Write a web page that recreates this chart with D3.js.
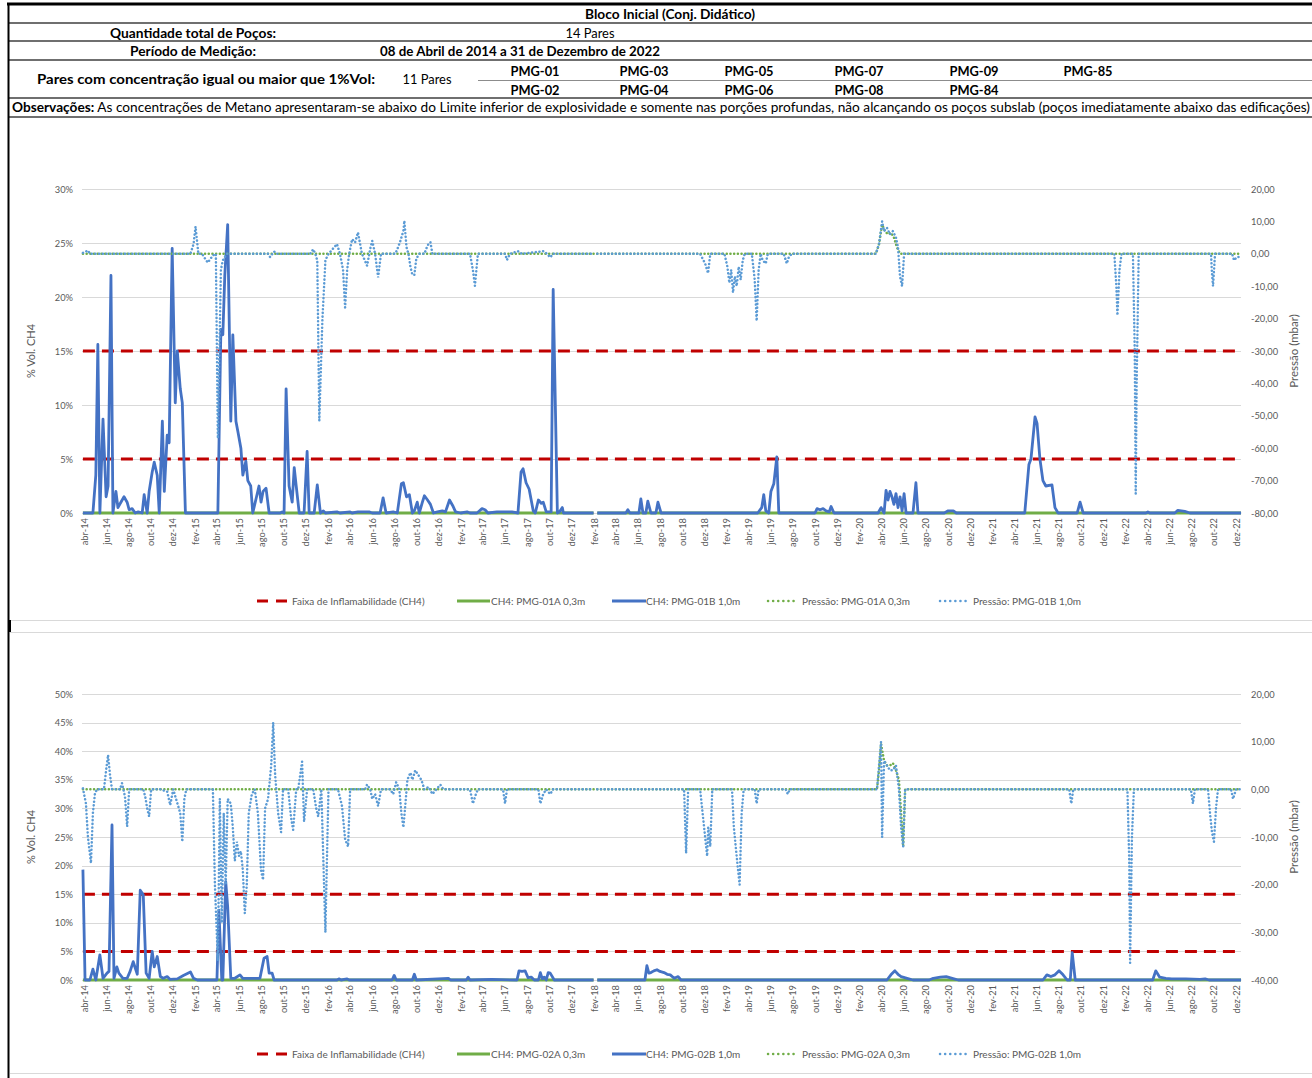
<!DOCTYPE html>
<html>
<head>
<meta charset="utf-8">
<script src="https://cdn.jsdelivr.net/npm/d3@7"></script>
<style>
  body { margin: 0; background: #fff; }
  svg { display: block; font-family: Lato, "Liberation Sans", sans-serif; }
</style>
</head>
<body>
<div id="page"></div>
<script>
// ---- data (time as decimal year, CH4 in %Vol, pressure in mbar) ----
var monthNames = ["jan", "fev", "mar", "abr", "mai", "jun", "jul", "ago", "set", "out", "nov", "dez"];
var flammability = [5, 15];
var pmgPairs1 = ["PMG-01", "PMG-03", "PMG-05", "PMG-07", "PMG-09", "PMG-85"];
var pmgPairs2 = ["PMG-02", "PMG-04", "PMG-06", "PMG-08", "PMG-84"];

var ch4_01A = [[2014.242, 0], [2018.079, 0], [2018.094, null], [2018.109, 0], [2022.954, 0]];
var ch4_01B = [
  [2014.242, 0], [2014.318, 0], [2014.340, 3.5], [2014.355, 15.6], [2014.370, 0], [2014.393, 8.7], [2014.416, 1.5],
  [2014.431, 2.5], [2014.453, 22], [2014.468, 0], [2014.491, 2], [2014.506, 0.5], [2014.528, 1], [2014.551, 1.5],
  [2014.574, 1], [2014.589, 0.3], [2014.611, 0.4], [2014.634, 0], [2014.656, 0.1], [2014.686, 0], [2014.701, 1.7],
  [2014.724, 0], [2014.739, 2], [2014.762, 3.8], [2014.777, 4.7], [2014.799, 3.5], [2014.814, 0], [2014.837, 8.5],
  [2014.852, 2], [2014.874, 7.2], [2014.889, 6.5], [2014.912, 24.5], [2014.935, 10.2], [2014.950, 15], [2014.972, 11.5],
  [2014.987, 10.2], [2015.010, 0], [2015.258, 0], [2015.281, 17], [2015.296, 16.5], [2015.311, 22], [2015.333, 26.7],
  [2015.356, 8.5], [2015.371, 16.5], [2015.394, 8.5], [2015.409, 7.5], [2015.431, 6], [2015.446, 3.5], [2015.469, 4.8],
  [2015.484, 3], [2015.506, 2.5], [2015.521, 0], [2015.567, 2.5], [2015.582, 1], [2015.597, 2], [2015.619, 2.3],
  [2015.642, 0], [2015.725, 0], [2015.740, 0.1], [2015.755, 0], [2015.770, 11.5], [2015.792, 2.5], [2015.815, 1],
  [2015.830, 4.2], [2015.845, 2.5], [2015.868, 0], [2015.905, 0], [2015.928, 5.7], [2015.943, 0], [2015.980, 0],
  [2016.003, 2.6], [2016.026, 0], [2016.048, 0.2], [2016.063, 0], [2016.153, 0.1], [2016.176, 0], [2016.251, 0.1],
  [2016.266, 0], [2016.311, 0.1], [2016.394, 0.1], [2016.417, 0], [2016.477, 0], [2016.500, 1.4], [2016.522, 0],
  [2016.575, 0.1], [2016.605, 0], [2016.635, 2.7], [2016.650, 2.8], [2016.673, 1.5], [2016.695, 1.7], [2016.718, 0],
  [2016.733, 0.2], [2016.755, 1], [2016.770, 0], [2016.793, 1], [2016.808, 1.6], [2016.831, 1.2], [2016.853, 0.8],
  [2016.876, 0], [2016.906, 0.1], [2016.943, 0.2], [2016.966, 0.1], [2016.996, 1.2], [2017.019, 0.7], [2017.041, 0.1],
  [2017.079, 0], [2017.131, 0.1], [2017.154, 0], [2017.207, 0], [2017.244, 0.4], [2017.267, 0.3], [2017.289, 0],
  [2017.357, 0.1], [2017.470, 0.1], [2017.515, 0], [2017.538, 3.8], [2017.553, 4.1], [2017.575, 2.8], [2017.598, 2.2],
  [2017.628, 0.2], [2017.643, 0], [2017.666, 1.2], [2017.688, 0.9], [2017.703, 1], [2017.726, 0.1], [2017.763, 0.1],
  [2017.778, 20.7], [2017.809, 0], [2017.824, 0.1], [2017.846, 0.5], [2017.854, 0], [2018.079, 0], [2018.094, null],
  [2018.109, 0], [2018.328, 0], [2018.343, 0.3], [2018.358, 0], [2018.425, 0], [2018.440, 1.3], [2018.456, 0],
  [2018.478, 0], [2018.493, 1.1], [2018.516, 0], [2018.553, 0], [2018.568, 1], [2018.591, 0], [2019.321, 0],
  [2019.351, 0.5], [2019.366, 1.7], [2019.381, 0.2], [2019.403, 0], [2019.419, 2], [2019.441, 2.7], [2019.464, 5.2],
  [2019.479, 0], [2019.750, 0], [2019.765, 0.4], [2019.787, 0.3], [2019.810, 0.4], [2019.832, 0.2], [2019.855, 0.1],
  [2019.870, 0.6], [2019.892, 0], [2020.224, 0], [2020.246, 0.5], [2020.269, 0], [2020.284, 2.1], [2020.299, 1.2],
  [2020.314, 2], [2020.329, 1.5], [2020.344, 0.8], [2020.359, 1.8], [2020.374, 0.5], [2020.389, 1.5], [2020.404, 0.2],
  [2020.419, 1.8], [2020.434, 0], [2020.487, 0], [2020.509, 2.8], [2020.524, 0], [2020.720, 0], [2020.750, 0.2],
  [2020.788, 0.2], [2020.810, 0], [2021.329, 0], [2021.360, 4.5], [2021.375, 5], [2021.405, 8.9], [2021.420, 8.3],
  [2021.442, 5], [2021.465, 3], [2021.487, 2.5], [2021.533, 2.6], [2021.555, 0.5], [2021.578, 0], [2021.721, 0],
  [2021.743, 1], [2021.766, 0], [2022.240, 0], [2022.255, 0.1], [2022.270, 0], [2022.458, 0], [2022.481, 0.25],
  [2022.533, 0.15], [2022.571, 0], [2022.954, 0]
];
var pres_01A = [
  [2014.242, 0], [2020.208, 0], [2020.231, 3], [2020.254, 9], [2020.276, 7], [2020.299, 6], [2020.321, 6.5],
  [2020.344, 5], [2020.366, 2], [2020.389, 0], [2022.954, 0]
];
var pres_01B = [
  [2014.242, 0.3], [2014.280, 1], [2014.295, 0], [2015.047, 0], [2015.070, 3], [2015.085, 8.4], [2015.108, 0],
  [2015.138, 0], [2015.160, -1.3], [2015.183, -2.7], [2015.221, -0.5], [2015.243, 0], [2015.258, -57], [2015.281, -5],
  [2015.296, -2], [2015.326, 0], [2015.634, 0], [2015.649, -1], [2015.679, 0.7], [2015.702, 0], [2015.950, 0],
  [2015.973, 1.4], [2015.988, 0], [2016.003, -2], [2016.018, -51.5], [2016.041, -20], [2016.063, -2], [2016.086, 0],
  [2016.153, 3], [2016.176, 0], [2016.199, -5], [2016.214, -16.6], [2016.229, -5], [2016.244, 0], [2016.266, 4.5],
  [2016.289, 3.5], [2016.311, 6.6], [2016.341, 0], [2016.379, -3.7], [2016.402, 1.5], [2016.417, 4], [2016.439, 0],
  [2016.462, -7.3], [2016.484, 0], [2016.590, 0], [2016.605, 1.4], [2016.627, 3.9], [2016.650, 7.1], [2016.657, 10.2],
  [2016.673, 2], [2016.688, 0], [2016.703, -4], [2016.718, -6.5], [2016.733, -6.5], [2016.748, -1.5], [2016.770, 0],
  [2016.808, 0], [2016.831, 2.6], [2016.853, 3.6], [2016.868, 0], [2017.154, 0], [2017.177, -5], [2017.192, -9.9],
  [2017.207, -3], [2017.214, 0], [2017.417, 0], [2017.432, -1.9], [2017.455, 0], [2017.515, 0.8], [2017.545, 0],
  [2017.703, 0.8], [2017.733, 0], [2017.756, -1.1], [2017.778, 0], [2018.079, 0], [2018.094, null], [2018.109, 0],
  [2018.884, 0], [2018.922, -3], [2018.944, -6], [2018.960, 0], [2019.065, 0], [2019.087, -4], [2019.103, -9],
  [2019.118, -5], [2019.133, -12], [2019.148, -7], [2019.163, -10], [2019.178, -4], [2019.193, -8], [2019.208, -2],
  [2019.223, 0], [2019.276, 0], [2019.298, -8], [2019.313, -20.7], [2019.328, -5], [2019.343, 0], [2019.358, -2],
  [2019.381, -3], [2019.396, 0], [2019.516, 0], [2019.539, -3], [2019.554, -1], [2019.576, 0], [2020.208, 0],
  [2020.231, 3], [2020.254, 10], [2020.269, 7], [2020.291, 8], [2020.314, 6], [2020.336, 7], [2020.359, 5],
  [2020.374, 2], [2020.389, -7], [2020.404, -10], [2020.419, 0], [2021.999, 0], [2022.014, -10], [2022.022, -19],
  [2022.037, -5], [2022.052, 0], [2022.142, 0], [2022.157, -30], [2022.165, -74], [2022.172, -40], [2022.187, 0],
  [2022.729, 0], [2022.736, -6], [2022.744, -10], [2022.759, 0], [2022.887, 0], [2022.902, -2], [2022.924, -1],
  [2022.954, -1]
];

var ch4_02A = [[2014.242, 0], [2018.079, 0], [2018.094, null], [2018.109, 0], [2022.954, 0]];
var ch4_02B = [
  [2014.242, 19.3], [2014.258, 0], [2014.295, 0], [2014.318, 1.9], [2014.340, 0], [2014.370, 4.4], [2014.393, 0.3],
  [2014.423, 1.2], [2014.438, 1.5], [2014.461, 27.1], [2014.476, 0.3], [2014.498, 2.3], [2014.513, 1.2], [2014.543, 0.3],
  [2014.574, 0.3], [2014.596, 1.5], [2014.619, 3.2], [2014.649, 1], [2014.671, 15.7], [2014.694, 14.9], [2014.716, 1.2],
  [2014.739, 0.3], [2014.762, 5], [2014.777, 2.3], [2014.799, 4.1], [2014.822, 0.6], [2014.844, 0.3], [2014.874, 0.6],
  [2014.897, 0.1], [2014.950, 0.2], [2014.995, 0.8], [2015.047, 1.4], [2015.070, 0.3], [2015.100, 0], [2015.251, 0],
  [2015.266, 12.2], [2015.288, 0], [2015.296, 0], [2015.318, 17.2], [2015.333, 12.8], [2015.356, 0.3], [2015.386, 0.3],
  [2015.424, 0.9], [2015.446, 0.3], [2015.521, 0.3], [2015.574, 0.3], [2015.604, 3.8], [2015.627, 4.1], [2015.642, 1.2],
  [2015.664, 1.2], [2015.679, 0], [2016.153, 0], [2016.168, 0.2], [2016.184, 0], [2016.229, 0.2], [2016.244, 0],
  [2016.567, 0], [2016.582, 0.8], [2016.597, 0], [2016.718, 0], [2016.733, 1], [2016.748, 0], [2016.988, 0.3],
  [2017.004, 0], [2017.124, 0], [2017.139, 0.5], [2017.154, 0], [2017.320, 0.1], [2017.508, 0], [2017.523, 1.6],
  [2017.545, 1.5], [2017.568, 1.6], [2017.590, 0.4], [2017.613, 0.5], [2017.636, 0], [2017.666, 0], [2017.681, 1.3],
  [2017.696, 0.2], [2017.711, 0.5], [2017.726, 0], [2017.741, 1.3], [2017.756, 1.2], [2017.786, 0], [2018.079, 0],
  [2018.094, null], [2018.109, 0], [2018.471, 0], [2018.486, 2.5], [2018.501, 1.2], [2018.516, 1.3], [2018.538, 1.6],
  [2018.561, 1.8], [2018.583, 1.5], [2018.613, 1.3], [2018.636, 1], [2018.659, 0.9], [2018.689, 0.3], [2018.719, 0.6],
  [2018.741, 0], [2020.291, 0], [2020.321, 0.9], [2020.351, 1.6], [2020.374, 1], [2020.397, 0.6], [2020.442, 0.3],
  [2020.487, 0], [2020.607, 0], [2020.637, 0.3], [2020.690, 0.5], [2020.735, 0.6], [2020.780, 0.3], [2020.825, 0],
  [2021.465, 0], [2021.495, 0.9], [2021.525, 0.6], [2021.555, 0.9], [2021.585, 1.6], [2021.615, 0.9], [2021.645, 0],
  [2021.668, 0], [2021.683, 4.8], [2021.706, 0], [2022.292, 0], [2022.315, 1.6], [2022.345, 0.5], [2022.390, 0.3],
  [2022.435, 0.2], [2022.481, 0.2], [2022.541, 0.2], [2022.646, 0.1], [2022.684, 0.2], [2022.714, 0], [2022.954, 0]
];
var pres_02A = [
  [2014.242, 0], [2020.216, 0], [2020.231, 4], [2020.246, 9.5], [2020.269, 6], [2020.291, 5], [2020.314, 5],
  [2020.336, 5.5], [2020.359, 4], [2020.381, 2], [2020.397, -5], [2020.412, -12], [2020.427, 0], [2022.954, 0]
];
var pres_02B = [
  [2014.242, 0.2], [2014.265, -3], [2014.280, -10], [2014.303, -15.5], [2014.318, -5], [2014.333, -1], [2014.348, 0],
  [2014.400, 0], [2014.416, 4], [2014.431, 7.2], [2014.446, 3], [2014.461, 0], [2014.521, 0], [2014.536, 1.3],
  [2014.558, -1.5], [2014.574, -7.8], [2014.589, 0], [2014.694, 0], [2014.709, -1.5], [2014.724, -4], [2014.739, -5.7],
  [2014.754, 0], [2014.822, 0], [2014.874, -0.5], [2014.897, -3.3], [2014.920, 0], [2014.972, -5], [2014.987, -11],
  [2015.002, -2], [2015.017, 0], [2015.221, 0], [2015.236, -20], [2015.258, -36], [2015.273, -2], [2015.288, -28],
  [2015.303, -5], [2015.318, -20], [2015.333, -2], [2015.356, -3], [2015.371, -8], [2015.386, -15], [2015.401, -11],
  [2015.416, -14], [2015.431, -13], [2015.446, -17], [2015.461, -26], [2015.476, -20], [2015.491, -5], [2015.514, -1],
  [2015.536, 0], [2015.559, -5], [2015.582, -17], [2015.597, -19], [2015.612, -4], [2015.634, -2], [2015.657, 5],
  [2015.672, 14], [2015.687, 3], [2015.710, -5], [2015.732, -9], [2015.747, 0], [2015.785, 0], [2015.807, -6],
  [2015.822, -8.5], [2015.845, 0], [2015.860, 0], [2015.890, 5.8], [2015.905, -6.8], [2015.928, 0], [2015.973, 0],
  [2015.995, -4], [2016.010, -5.7], [2016.033, 0], [2016.048, -15], [2016.063, -30], [2016.078, -10], [2016.086, 0],
  [2016.161, 0], [2016.191, -3.5], [2016.214, -10.5], [2016.236, -12], [2016.251, 0], [2016.364, 0], [2016.379, 1],
  [2016.402, 0], [2016.417, -2], [2016.439, -1], [2016.462, -3.5], [2016.484, 0], [2016.552, 0], [2016.575, -1],
  [2016.597, 1.5], [2016.620, 0], [2016.635, -5], [2016.650, -8], [2016.665, -3], [2016.680, 2], [2016.703, 3.5],
  [2016.718, 2], [2016.740, 4], [2016.763, 3], [2016.785, 2], [2016.808, 0], [2016.838, 0.5], [2016.868, -1],
  [2016.898, 0], [2016.928, 1], [2016.951, 0], [2017.154, 0], [2017.177, -3], [2017.199, -1], [2017.214, 0],
  [2017.402, 0], [2017.417, -3], [2017.432, 0], [2017.666, 0], [2017.681, -3], [2017.703, -1], [2017.726, 0],
  [2017.756, -1], [2017.778, 0], [2018.079, 0], [2018.094, null], [2018.109, 0], [2018.764, 0], [2018.779, -13.4],
  [2018.794, 0], [2018.884, 0], [2018.907, -6], [2018.922, -10], [2018.937, -14], [2018.945, -8], [2018.960, -12],
  [2018.975, 0], [2019.125, 0], [2019.140, -8], [2019.155, -12], [2019.170, -16], [2019.185, -20], [2019.200, -5],
  [2019.215, 0], [2019.298, 0], [2019.313, -3], [2019.328, 0], [2019.531, 0], [2019.546, -1], [2019.561, 0],
  [2020.216, 0], [2020.231, 5], [2020.246, 10], [2020.254, -10], [2020.269, 6], [2020.291, 5], [2020.314, 4],
  [2020.336, 4], [2020.359, 5], [2020.381, 0], [2020.397, -8], [2020.412, -12], [2020.427, 0], [2021.660, 0],
  [2021.676, -3], [2021.691, 0], [2022.097, 0], [2022.112, -15], [2022.119, -36.4], [2022.134, -10], [2022.150, 0],
  [2022.578, 0], [2022.593, -3], [2022.608, 0], [2022.706, 0], [2022.721, -5], [2022.736, -9], [2022.751, -11],
  [2022.766, -4], [2022.781, 0], [2022.879, 0], [2022.894, -2], [2022.917, 0], [2022.954, 0]
];

// ---- page ----
var width = 1312;
var height = 1078;
var textColor = "#595959";
var red = "#c00000", green = "#70ad47", blue = "#4472c4", lightBlue = "#5b9bd5";

var svg = d3.select("#page").append("svg").attr("width", width).attr("height", height);

function dateFromYear(t) {
  var y = Math.floor(t);
  var m = (t - y) * 12;
  var mi = Math.floor(m);
  var start = new Date(y, mi, 1);
  var end = new Date(y, mi + 1, 1);
  return new Date(+start + (m - mi) * (end - start));
}

function fmtComma(v) {
  return v.toFixed(2).replace(".", ",");
}

drawHeader();

drawChart({
  top: 189, bottom: 513, leftMax: 30, rightMin: -80, rightMax: 20,
  legendY: 601, titleY: 351,
  ch4A: ch4_01A, ch4B: ch4_01B, presA: pres_01A, presB: pres_01B,
  names: ["Faixa de Inflamabilidade (CH4)", "CH4: PMG-01A 0,3m", "CH4: PMG-01B 1,0m", "Pressão: PMG-01A 0,3m", "Pressão: PMG-01B 1,0m"]
});

drawChart({
  top: 694, bottom: 980, leftMax: 50, rightMin: -40, rightMax: 20,
  legendY: 1054, titleY: 837,
  ch4A: ch4_02A, ch4B: ch4_02B, presA: pres_02A, presB: pres_02B,
  names: ["Faixa de Inflamabilidade (CH4)", "CH4: PMG-02A 0,3m", "CH4: PMG-02B 1,0m", "Pressão: PMG-02A 0,3m", "Pressão: PMG-02B 1,0m"]
});

// panel frames
svg.append("line").attr("x1", 8.5).attr("x2", 8.5).attr("y1", 3).attr("y2", height)
  .attr("stroke", "#000").attr("stroke-width", 2);
[620, 632, 1073].forEach(function (y) {
  svg.append("line").attr("x1", 10).attr("x2", width).attr("y1", y + 0.5).attr("y2", y + 0.5)
    .attr("stroke", "#d9d9d9").attr("stroke-width", 1);
});
svg.append("line").attr("x1", 9.5).attr("x2", 9.5).attr("y1", 620).attr("y2", 632)
  .attr("stroke", "#000").attr("stroke-width", 3);

function drawHeader() {
  var g = svg.append("g").attr("class", "header");

  g.append("line").attr("x1", 7).attr("x2", width).attr("y1", 4).attr("y2", 4)
    .attr("stroke", "#000").attr("stroke-width", 3);
  [23, 41, 60, 98, 117].forEach(function (y) {
    g.append("line").attr("x1", 8).attr("x2", width).attr("y1", y).attr("y2", y)
      .attr("stroke", "#3f3f3f").attr("stroke-width", 1.5);
  });
  g.append("line").attr("x1", 478).attr("x2", width).attr("y1", 80.5).attr("y2", 80.5)
    .attr("stroke", "#8c8c8c").attr("stroke-width", 1);

  // x, y, text, bold, anchor, width the text spans in the source table
  function label(x, y, txt, bold, anchor, span) {
    var t = g.append("text").attr("x", x).attr("y", y)
      .attr("text-anchor", anchor || "middle")
      .attr("dominant-baseline", "central")
      .style("font-size", "13px")
      .style("font-weight", bold ? "bold" : "normal")
      .attr("fill", "#000")
      .text(txt);
    if (span) {
      t.attr("textLength", span).attr("lengthAdjust", "spacingAndGlyphs");
    }
    return t;
  }

  label(670, 14, "Bloco Inicial (Conj. Didático)", true, "middle", 170);
  label(193, 33, "Quantidade total de Poços:", true, "middle", 166);
  label(590, 33, "14 Pares", false, "middle", 49);
  label(193, 51, "Período de Medição:", true, "middle", 126);
  label(380, 51, "08 de Abril de 2014 a 31 de Dezembro de 2022", true, "start", 280);
  label(206, 79, "Pares com concentração igual ou maior que 1%Vol:", true, "middle", 338);
  label(427, 79, "11 Pares", false, "middle", 49);

  var cols = [535, 644, 749, 859, 974, 1088];
  pmgPairs1.forEach(function (p, i) { label(cols[i], 71, p, true, "middle", 49); });
  pmgPairs2.forEach(function (p, i) { label(cols[i], 90, p, true, "middle", 49); });

  var obs = g.append("text").attr("x", 12).attr("y", 107)
    .attr("dominant-baseline", "central")
    .style("font-size", "13px").attr("fill", "#000");
  obs.append("tspan").style("font-weight", "bold").text("Observações:");
  obs.append("tspan").text(" As concentrações de Metano apresentaram-se abaixo do Limite inferior de explosividade e somente nas porções profundas, não alcançando os poços subslab (poços imediatamente abaixo das edificações)");
  obs.attr("textLength", 1298).attr("lengthAdjust", "spacingAndGlyphs");
}

function drawChart(cfg) {
  var g = svg.append("g");
  var plotLeft = 82, plotRight = 1241;

  var x = d3.scaleTime()
    .domain([new Date(2014, 3, 1), new Date(2022, 11, 1)])
    .range([84, 1236]);
  var yL = d3.scaleLinear().domain([0, cfg.leftMax]).range([cfg.bottom, cfg.top]);
  var yR = d3.scaleLinear().domain([cfg.rightMin, cfg.rightMax]).range([cfg.bottom, cfg.top]);

  var leftTicks = d3.range(0, cfg.leftMax + 0.001, 5);
  var rightTicks = d3.range(cfg.rightMin, cfg.rightMax + 0.001, 10);

  // gridlines
  g.selectAll(".grid")
    .data(leftTicks)
    .enter()
    .append("line")
    .attr("class", "grid")
    .attr("x1", plotLeft).attr("x2", plotRight)
    .attr("y1", function (d) { return Math.round(yL(d)) + 0.5; })
    .attr("y2", function (d) { return Math.round(yL(d)) + 0.5; })
    .attr("stroke", "#d9d9d9").attr("stroke-width", 1);

  // left axis labels
  g.selectAll(".ltick")
    .data(leftTicks)
    .enter()
    .append("text")
    .attr("x", 73)
    .attr("y", function (d) { return yL(d); })
    .attr("text-anchor", "end")
    .attr("dominant-baseline", "central")
    .style("font-size", "9.3px")
    .attr("fill", textColor)
    .text(function (d) { return d + "%"; });

  // right axis labels
  g.selectAll(".rtick")
    .data(rightTicks)
    .enter()
    .append("text")
    .attr("x", 1251)
    .attr("y", function (d) { return yR(d); })
    .attr("dominant-baseline", "central")
    .style("font-size", "9.3px")
    .attr("fill", textColor)
    .text(fmtComma);

  // x labels every 2 months
  var months = d3.timeMonth.range(new Date(2014, 3, 1), new Date(2022, 11, 2), 2);
  g.selectAll(".xtick")
    .data(months)
    .enter()
    .append("text")
    .attr("transform", function (d) {
      return "translate(" + x(d) + "," + (cfg.bottom + 5) + ") rotate(-90)";
    })
    .attr("text-anchor", "end")
    .attr("dominant-baseline", "central")
    .style("font-size", "9.3px")
    .attr("fill", textColor)
    .text(function (d) {
      return monthNames[d.getMonth()] + "-" + String(d.getFullYear()).slice(2);
    });

  // axis titles
  g.append("text")
    .attr("transform", "translate(30," + cfg.titleY + ") rotate(-90)")
    .attr("text-anchor", "middle")
    .attr("dominant-baseline", "central")
    .style("font-size", "11px")
    .attr("fill", textColor)
    .text("% Vol. CH4");
  g.append("text")
    .attr("transform", "translate(1293," + cfg.titleY + ") rotate(-90)")
    .attr("text-anchor", "middle")
    .attr("dominant-baseline", "central")
    .style("font-size", "11.5px")
    .attr("fill", textColor)
    .text("Pressão (mbar)");

  // flammability range
  g.selectAll(".flam")
    .data(flammability)
    .enter()
    .append("line")
    .attr("x1", x(dateFromYear(2014.242))).attr("x2", plotRight - 1)
    .attr("y1", function (d) { return yL(d); })
    .attr("y2", function (d) { return yL(d); })
    .attr("stroke", red).attr("stroke-width", 3)
    .attr("stroke-dasharray", "12,7");

  var lineL = d3.line()
    .defined(function (d) { return d[1] !== null; })
    .x(function (d) { return x(dateFromYear(d[0])); })
    .y(function (d) { return yL(d[1]); });
  var lineR = d3.line()
    .defined(function (d) { return d[1] !== null; })
    .x(function (d) { return x(dateFromYear(d[0])); })
    .y(function (d) { return yR(d[1]); });

  g.append("path").datum(cfg.ch4A).attr("d", lineL)
    .attr("fill", "none").attr("stroke", green).attr("stroke-width", 3);
  g.append("path").datum(cfg.ch4B).attr("d", lineL)
    .attr("fill", "none").attr("stroke", blue).attr("stroke-width", 2.8)
    .attr("stroke-linejoin", "round");
  g.append("path").datum(cfg.presA).attr("d", lineR)
    .attr("fill", "none").attr("stroke", green).attr("stroke-width", 2.5)
    .attr("stroke-linecap", "round").attr("stroke-dasharray", "0.1,3.6");
  g.append("path").datum(cfg.presB).attr("d", lineR)
    .attr("fill", "none").attr("stroke", lightBlue).attr("stroke-width", 2.5)
    .attr("stroke-linecap", "round").attr("stroke-dasharray", "0.1,3.6");

  // legend
  var lg = g.append("g").attr("transform", "translate(0," + cfg.legendY + ")");
  var items = [
    { x1: 257, x2: 287, tx: 292, color: red, w: 3, dash: "11,8", cap: "butt" },
    { x1: 457, x2: 490, tx: 491, color: green, w: 3, dash: null, cap: "butt" },
    { x1: 612, x2: 646, tx: 646, color: blue, w: 3, dash: null, cap: "butt" },
    { x1: 768, x2: 797, tx: 802, color: green, w: 2.5, dash: "0.1,5", cap: "round" },
    { x1: 940, x2: 968, tx: 973, color: lightBlue, w: 2.5, dash: "0.1,5", cap: "round" }
  ];
  items.forEach(function (it, i) {
    lg.append("line").attr("x1", it.x1).attr("x2", it.x2).attr("y1", 0).attr("y2", 0)
      .attr("stroke", it.color).attr("stroke-width", it.w)
      .attr("stroke-linecap", it.cap)
      .attr("stroke-dasharray", it.dash);
    lg.append("text").attr("x", it.tx).attr("y", 0)
      .attr("dominant-baseline", "central")
      .style("font-size", "10px")
      .attr("fill", textColor)
      .text(cfg.names[i]);
  });
}
</script>
</body>
</html>
